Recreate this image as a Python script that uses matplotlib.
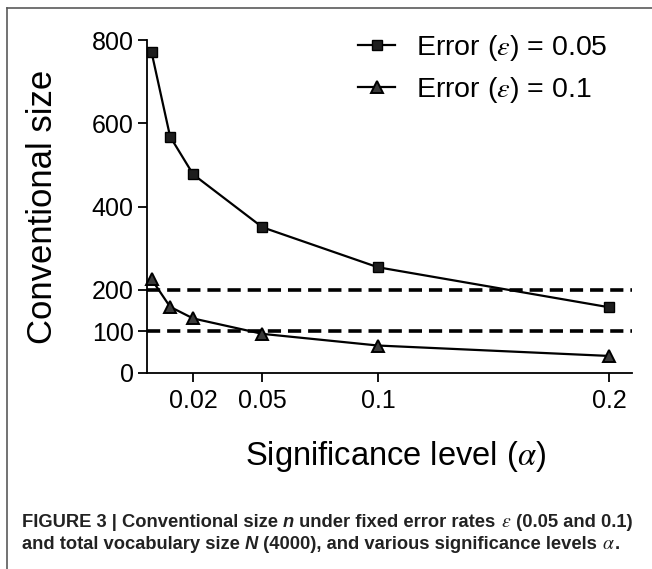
import matplotlib
matplotlib.use("Agg")
import matplotlib.pyplot as plt
from matplotlib import font_manager
from matplotlib.lines import Line2D

# Data
alpha = [0.002, 0.01, 0.02, 0.05, 0.1, 0.2]
size_e005 = [770, 568, 477, 350, 254, 158]
size_e01 = [225, 159, 131, 94, 66, 41]
ref_levels = [200, 100]

xticks = [0.02, 0.05, 0.1, 0.2]
xticklabels = ["0.02", "0.05", "0.1", "0.2"]
yticks = [0, 100, 200, 400, 600, 800]

plt.rcParams["font.family"] = ["Liberation Sans", "DejaVu Sans"]
plt.rcParams["mathtext.fontset"] = "stix"
plt.rcParams["lines.scale_dashes"] = False

names = {f.name for f in font_manager.fontManager.ttflist}
cap_font = "Liberation Sans Narrow" if "Liberation Sans Narrow" in names else "Liberation Sans"

W, H = 652, 569
fig = plt.figure(figsize=(W / 100, H / 100), dpi=100)
ax = fig.add_axes([147 / W, 1 - 373 / H, (632 - 147) / W, (373 - 40) / H])

# Reference lines
for lvl in ref_levels:
    ax.axhline(lvl, color="black", lw=2.6, dashes=(9.5, 5), zorder=1)

ax.plot(alpha, size_e005, color="black", lw=1.6, marker="s", ms=6.5,
        mfc="#1e1e1e", mec="black", clip_on=False, zorder=3,
        label=r"Error ($\varepsilon$) = 0.05")
ax.plot(alpha, size_e01, color="black", lw=1.6, marker="^", ms=8.5,
        mfc="#3a3a3a", mec="black", mew=1.4, clip_on=False, zorder=3,
        label=r"Error ($\varepsilon$) = 0.1")

ax.set_xlim(0, 0.21)
ax.set_ylim(0, 800)
ax.set_xticks(xticks)
ax.set_xticklabels(xticklabels)
ax.set_yticks(yticks)
for s in ["top", "right"]:
    ax.spines[s].set_visible(False)
for s in ["left", "bottom"]:
    ax.spines[s].set_linewidth(1.3)
ax.tick_params(axis="both", labelsize=18, width=1.3, length=6.5, color="black")
ax.tick_params(axis="x", pad=5)
ax.tick_params(axis="y", pad=3)

fig.text(43 / W, 1 - 207 / H, "Conventional size", rotation=90,
         ha="center", va="center", fontsize=25)
fig.text(395 / W, 1 - 465 / H, r"Significance level ($\alpha$)",
         ha="center", va="baseline", fontsize=23.5)

leg = ax.legend(loc="upper left", bbox_to_anchor=(358 / W, 1 - 33 / H),
                bbox_transform=fig.transFigure, frameon=False, fontsize=20.5,
                borderpad=0, borderaxespad=0, handlelength=1.3,
                handletextpad=0.75, labelspacing=0.42, numpoints=1)

# Frame lines (top and left)
fig.add_artist(Line2D([7 / W, 1], [1 - 8 / H, 1 - 8 / H], color="#5a5a5a", lw=1.2,
                      transform=fig.transFigure))
fig.add_artist(Line2D([7 / W, 7 / W], [0, 1 - 8 / H], color="#5a5a5a", lw=1.2,
                      transform=fig.transFigure))

# Caption, drawn in pieces so n / N can be italic
lines = [
    [("FIGURE 3 | Conventional size ", "b"), ("n", "bi"),
     (" under fixed error rates ", "b"), (r"$\varepsilon$", "g"),
     (" (0.05 and 0.1)", "b")],
    [("and total vocabulary size ", "b"), ("N", "bi"),
     (" (4000), and various significance levels ", "b"), (r"$\alpha$", "g"),
     (".", "b")],
]
baselines = [527, 549]
renderer = fig.canvas.get_renderer()


def props(kind, size):
    if kind == "b":
        return dict(family=cap_font, weight="bold", fontsize=size, color="#222222")
    if kind == "bi":
        return dict(family=cap_font, weight="bold", style="italic", fontsize=size, color="#222222")
    return dict(fontsize=size + 1, color="#222222")


def width_of(txt, p):
    t = fig.text(0, 0, txt.rstrip(" "), **p)
    w = t.get_window_extent(renderer).width
    t.remove()
    if txt.endswith(" "):
        a = fig.text(0, 0, "a a", **p)
        b = fig.text(0, 0, "aa", **p)
        w += a.get_window_extent(renderer).width - b.get_window_extent(renderer).width
        a.remove()
        b.remove()
    return w


# pick caption size so the first line spans the same width as the original
base = 11
w1 = sum(width_of(t, props(k, base)) for t, k in lines[0])
cap_size = base * (613 / w1)

for pieces, yb in zip(lines, baselines):
    x = 22
    for txt, kind in pieces:
        p = props(kind, cap_size)
        fig.text(x / W, 1 - yb / H, txt.rstrip(" "), va="baseline", ha="left", **p)
        x += width_of(txt, p)

fig.savefig("out.png", dpi=100)
